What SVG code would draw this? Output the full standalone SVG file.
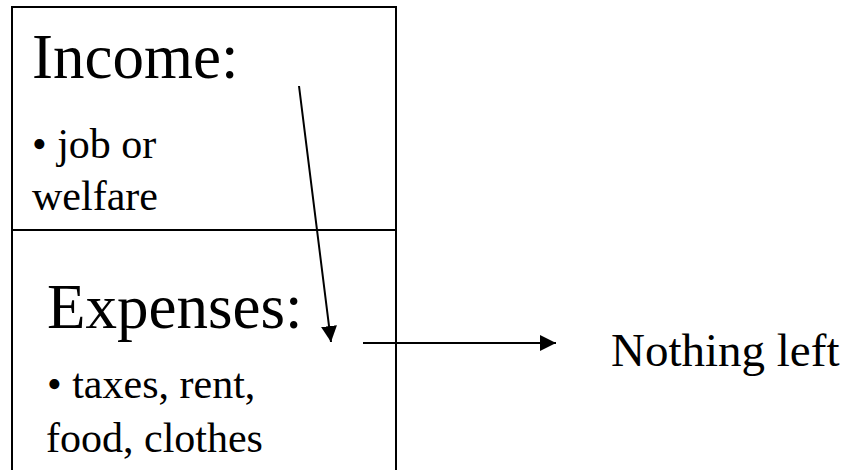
<svg xmlns="http://www.w3.org/2000/svg" width="849" height="470" viewBox="0 0 849 470">
  <style>
    .frame { fill: none; stroke: #000; stroke-width: 2; }
    text { font-family: 'Liberation Serif', Tinos, 'Times New Roman', Times, 'DejaVu Serif', serif; fill: #000; }
    .title { font-size: 63px; }
    .item { font-size: 42px; }
    .result { font-size: 47px; }
    .flow { stroke: #000; stroke-width: 2; fill: none; }
  </style>
  <defs>
    <marker id="head" viewBox="0 0 16 16" refX="16" refY="8" markerWidth="16" markerHeight="16" markerUnits="userSpaceOnUse" orient="auto">
      <path d="M0,0 L16,8 L0,16 Z" fill="#000"/>
    </marker>
  </defs>
  <rect width="849" height="470" fill="#fff"/>

  <g id="income">
    <path class="frame" d="M12,472 V7 H396 V230"/>
    <text class="title" x="32" y="78">Income:</text>
    <text class="item" x="32" y="158">• job or</text>
    <text class="item" x="32" y="210">welfare</text>
  </g>

  <g id="expenses">
    <path class="frame" d="M12,230 H396 V472"/>
    <text class="title" x="47" y="328">Expenses:</text>
    <text class="item" x="47" y="398">• taxes, rent,</text>
    <text class="item" x="46" y="452">food, clothes</text>
  </g>

  <g id="nothing-left">
    <text class="result" x="611" y="366">Nothing left</text>
  </g>

  <g id="connectors">
    <line class="flow" x1="299" y1="86" x2="331" y2="342" marker-end="url(#head)"/>
    <line class="flow" x1="363" y1="343" x2="556" y2="343" marker-end="url(#head)"/>
  </g>
</svg>
